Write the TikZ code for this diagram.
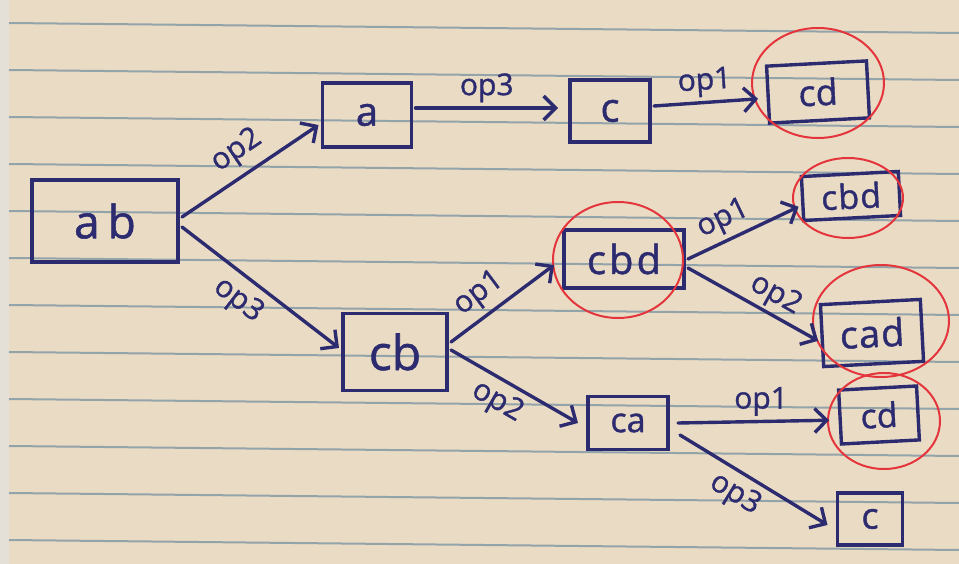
\documentclass[tikz,border=0pt]{standalone}
\usepackage{fontspec}
\setmainfont{Open Sans}[FakeBold=1.2]
\usetikzlibrary{arrows.meta}
\definecolor{paper}{HTML}{EADCC4}
\definecolor{margin}{HTML}{E4E0D8}
\definecolor{ruling}{HTML}{93A3AA}
\definecolor{ink}{HTML}{2D2B70}
\definecolor{redink}{HTML}{E4343C}
\newcommand\handsz[1]{\fontsize{#1}{#1}\selectfont}
\begin{document}
\begin{tikzpicture}[x=1pt,y=-1pt,
  box/.style={draw=ink, line width=3.4pt, inner sep=0pt, outer sep=4pt, text=ink},
  edge/.style={draw=ink, line width=3.4pt, line cap=round,
    -{Straight Barb[length=12pt,width=24pt,line width=3.4pt]}},
  lbl/.style={text=ink, font=\handsz{30}, inner sep=2pt},
  ring/.style={draw=redink, line width=2pt}]

% ruled notebook paper
\fill[paper] (0,0) rectangle (959,564);
\fill[margin] (0,0) rectangle (9,564);
\useasboundingbox (0,0) rectangle (959,564);
\foreach \k in {0,...,11}
  \draw[ruling, line width=2pt] (9,{23+47*\k}) -- (959,{33+47*\k});

% state boxes
\node[box, minimum width=146pt, minimum height=82pt, font=\handsz{46}] (ab)   at (105,221) {a\kern8pt b};
\node[box, minimum width=89pt,  minimum height=64pt, font=\handsz{40}] (a)    at (367,115) {a};
\node[box, minimum width=80pt,  minimum height=62pt, font=\handsz{40}] (c1)   at (610,111) {c};
\node[box, minimum width=100pt, minimum height=57pt, font=\handsz{36}, rotate=3] (cd1) at (818,92) {cd};
\node[box, minimum width=104pt, minimum height=77pt, font=\handsz{48}] (cb)   at (395,352) {cb};
\node[box, minimum width=120pt, minimum height=58pt, font=\handsz{40}] (cbd1) at (624,259) {c\kern3pt b\kern3pt d};
\node[box, minimum width=97pt,  minimum height=44pt, font=\handsz{34}, rotate=3] (cbd2) at (851,196) {c\kern1pt b\kern1pt d};
\node[box, minimum width=100pt, minimum height=62pt, font=\handsz{38}, rotate=3] (cad)  at (872,333) {c\kern1pt a\kern1pt d};
\node[box, minimum width=80pt,  minimum height=53pt, font=\handsz{34}] (ca)   at (628,423) {ca};
\node[box, minimum width=78pt,  minimum height=54pt, font=\handsz{34}, rotate=3] (cd2)  at (879,415) {cd};
\node[box, minimum width=65pt,  minimum height=52pt, font=\handsz{36}] (c2)   at (870,519) {c};

% red circles round the goal states
\draw[ring] (818,83)  ellipse [x radius=66, y radius=55];
\draw[ring] (618,260) ellipse [x radius=65, y radius=58];
\draw[ring] (848,198) ellipse [x radius=55, y radius=40];
\draw[ring] (881,321) ellipse [x radius=68, y radius=56];
\draw[ring] (884,421) ellipse [x radius=56, y radius=48];

% transitions
\draw[edge] ([yshift=4pt]ab.east) -- node[lbl, sloped, above=6pt] {op2} ([yshift=-10pt]a.west);
\draw[edge] ([yshift=-6pt]ab.east) -- node[lbl, sloped, below=6pt, pos=0.45] {op3} ([yshift=4pt]cb.west);
\draw[edge] ([yshift=7pt]a.east) -- node[lbl, above=2pt] {op3} ([xshift=-8pt,yshift=3pt]c1.west);
\draw[edge] ([yshift=5pt]c1.east) -- node[lbl, sloped, above=2pt] {op1} ([xshift=-6pt,yshift=-4pt]cd1.west);
\draw[edge] ([yshift=10pt]cb.east) -- node[lbl, sloped, above=4pt, pos=0.4] {op1} ([xshift=-6pt,yshift=-6pt]cbd1.west);
\draw[edge] ([yshift=2pt]cb.east) -- node[lbl, sloped, below=4pt, pos=0.45] {op2} ([xshift=-6pt]ca.west);
\draw[edge] (cbd1.east) -- node[lbl, sloped, above=3pt, pos=0.4] {op1} ([yshift=-8pt]cbd2.west);
\draw[edge] ([yshift=-9pt]cbd1.east) -- node[lbl, sloped, above=1pt, pos=0.6] {op2} ([yshift=-5pt]cad.west);
\draw[edge] ([xshift=6pt]ca.east) -- node[lbl, above=2pt, pos=0.55] {op1} ([xshift=-7pt,yshift=-3pt]cd2.west);
\draw[edge] ([xshift=8pt,yshift=-12pt]ca.east) -- node[lbl, sloped, below=4pt, pos=0.45] {op3} ([xshift=-6pt,yshift=-6pt]c2.west);
\end{tikzpicture}
\end{document}
